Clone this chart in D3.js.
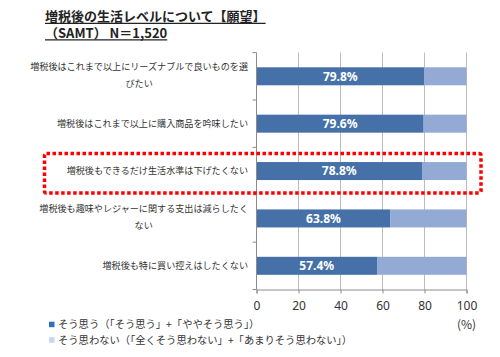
<!DOCTYPE html>
<html><head><meta charset="utf-8">
<script src="https://cdn.jsdelivr.net/npm/d3@7"></script>
<style>
html,body{margin:0;padding:0;background:#fff;}
svg{display:block;}
</style></head>
<body>
<svg id="chart" width="500" height="357"></svg>
<script>
const titleLines = ["増税後の生活レベルについて【願望】", "（SAMT） N＝1,520"];
const categories = [
  ["増税後はこれまで以上にリーズナブルで良いものを選", "びたい"],
  ["増税後はこれまで以上に購入商品を吟味したい"],
  ["増税後もできるだけ生活水準は下げたくない"],
  ["増税後も趣味やレジャーに関する支出は減らしたく", "ない"],
  ["増税後も特に買い控えはしたくない"]
];
const agree = [79.8, 79.6, 78.8, 63.8, 57.4];
const disagree = [20.2, 20.4, 21.2, 36.2, 42.6];
const xTicks = [0, 20, 40, 60, 80, 100];
const legendLabels = ["そう思う（「そう思う」+「ややそう思う」）", "そう思わない（「全くそう思わない」+「あまりそう思わない」）"];
const highlightIndex = 2;

(function () {
const svg = d3.select("#chart");
const JP = "'Noto Sans CJK JP','Noto Sans',sans-serif";
const pLeft = 256.5, pRight = 466.5, pTop = 52.6, pBottom = 289.5;

const x = d3.scaleLinear().domain([0, 100]).range([pLeft, pRight]);
const y = d3.scaleBand().domain(d3.range(categories.length)).range([pTop, pBottom])
  .paddingInner(0.62).paddingOuter(0.31);

// title
titleLines.forEach((t, i) => {
  const tx = svg.append("text").attr("x", 45).attr("y", 20.5 + i * 17.5)
    .attr("font-family", JP).attr("font-size", 13).attr("font-weight", "bold")
    .attr("fill", "#222").text(t);
  const w = tx.node().getComputedTextLength();
  svg.append("line").attr("x1", 45).attr("x2", 45 + w)
    .attr("y1", 23.3 + i * 16.5).attr("y2", 23.3 + i * 16.5)
    .attr("stroke", "#222").attr("stroke-width", 1.3);
});

// gridlines
svg.append("g").selectAll("line").data(xTicks.slice(1)).join("line")
  .attr("x1", d => x(d)).attr("x2", d => x(d))
  .attr("y1", pTop).attr("y2", pBottom)
  .attr("stroke", "#bcbcbc").attr("stroke-width", 1);

// bars
const bars = svg.append("g");
bars.selectAll("rect.a").data(agree).join("rect").attr("class", "a")
  .attr("x", x(0)).attr("y", (d, i) => y(i))
  .attr("width", d => x(d) - x(0)).attr("height", y.bandwidth())
  .attr("fill", "#4571a8");
bars.selectAll("rect.b").data(disagree).join("rect").attr("class", "b")
  .attr("x", (d, i) => x(agree[i])).attr("y", (d, i) => y(i))
  .attr("width", d => x(d) - x(0)).attr("height", y.bandwidth())
  .attr("fill", "#93aad5");
bars.selectAll("text").data(agree).join("text")
  .attr("x", d => (x(0) + x(d)) / 2).attr("y", (d, i) => y(i) + y.bandwidth() / 2)
  .attr("dy", "0.36em").attr("text-anchor", "middle")
  .attr("font-family", "'Noto Sans',sans-serif").attr("font-size", 12).attr("font-weight", "bold")
  .attr("fill", "#fff").text(d => d.toFixed(1) + "%");

// left axis line with category separator ticks
const yAxis = svg.append("g");
yAxis.append("line").attr("x1", pLeft).attr("x2", pLeft).attr("y1", pTop).attr("y2", pBottom)
  .attr("stroke", "#8c8c8c");
const seps = d3.range(categories.length + 1).map(i => pTop + i * y.step());
yAxis.selectAll("line.t").data(seps).join("line").attr("class", "t")
  .attr("x1", pLeft - 4).attr("x2", pLeft).attr("y1", d => d).attr("y2", d => d)
  .attr("stroke", "#8c8c8c");

// bottom axis
const xAxisG = svg.append("g").attr("transform", `translate(0,${pBottom})`)
  .call(d3.axisBottom(x).tickValues(xTicks).tickSize(4).tickPadding(8));
xAxisG.select(".domain").attr("stroke", "#8c8c8c");
xAxisG.selectAll(".tick line").attr("stroke", "#8c8c8c");
xAxisG.selectAll(".tick text").attr("font-family", "'Noto Sans',sans-serif")
  .attr("font-size", 12).attr("fill", "#333");
svg.append("text").attr("x", x(100)).attr("y", 329).attr("text-anchor", "middle")
  .attr("font-family", JP).attr("font-size", 12).attr("fill", "#333").text("(%)");

// category labels
const labelRight = 248, fs = 9.1, lh = 16.5;
categories.forEach((lines, i) => {
  const cy = y(i) + y.bandwidth() / 2;
  const g = svg.append("g");
  const texts = lines.map((l, j) => g.append("text")
    .attr("y", cy + (j - (lines.length - 1) / 2) * lh - (lines.length > 1 ? 1 : 0))
    .attr("dy", "0.36em").attr("text-anchor", "middle")
    .attr("font-family", JP).attr("font-size", fs).attr("fill", "#333").text(l));
  const maxW = d3.max(texts, t => t.node().getComputedTextLength());
  texts.forEach(t => t.attr("x", labelRight - maxW / 2));
});

// highlight box
const hy0 = y(highlightIndex) - 8.5, hy1 = y(highlightIndex) + y.bandwidth() + 13;
svg.append("rect").attr("x", 44.5).attr("y", hy0).attr("width", 481 - 44.5).attr("height", hy1 - hy0)
  .attr("rx", 2).attr("fill", "none").attr("stroke", "#ff0000").attr("stroke-width", 3.5)
  .attr("stroke-dasharray", "3.5,2.5");

// legend
const legendColors = ["#2f70be", "#c4d7ef"];
legendLabels.forEach((l, i) => {
  const ly = 324.5 + i * 15.5;
  svg.append("rect").attr("x", 49).attr("y", ly - 2.8).attr("width", 5.5).attr("height", 5.5)
    .attr("fill", legendColors[i]);
  svg.append("text").attr("x", 58).attr("y", ly).attr("dy", "0.36em")
    .attr("font-family", JP).attr("font-size", 10.3).attr("fill", "#333").text(l);
});
})();
</script>
</body></html>
